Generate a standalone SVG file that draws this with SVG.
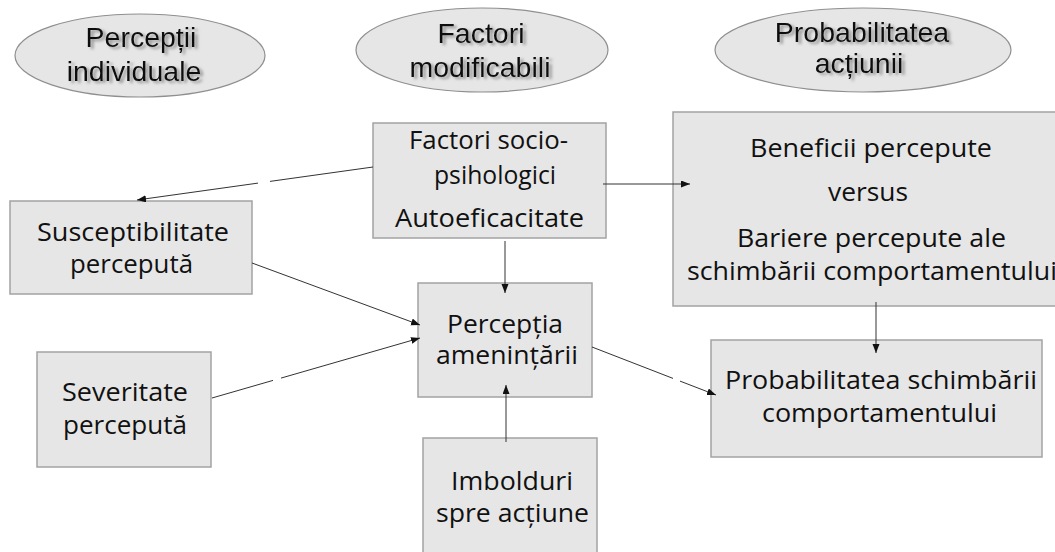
<svg xmlns="http://www.w3.org/2000/svg" width="1055" height="552" viewBox="0 0 1055 552">
  <style>
    .ell { fill: #e6e6e6; stroke: #8f8f8f; stroke-width: 1.2; }
    .box { fill: #e6e6e6; stroke: #a3a3a3; stroke-width: 1.5; }
    .et { font-family: "Liberation Sans", Arial, sans-serif; font-size: 28.5px; fill: #111; text-anchor: middle; filter: url(#shadow); }
    .bt { font-family: "Open Sans", "Noto Sans", sans-serif; font-size: 25px; fill: #111; text-anchor: middle; }
    .conn { fill: none; stroke: #333; stroke-width: 1; marker-end: url(#arrow); }
  </style>
  <defs>
    <marker id="arrow" markerUnits="userSpaceOnUse" markerWidth="10" markerHeight="8" refX="9" refY="3.5" orient="auto">
      <path d="M0,0 L9,3.5 L0,7 Z" fill="#111"/>
    </marker>
    <filter id="shadow" x="-10%" y="-20%" width="130%" height="150%">
      <feGaussianBlur in="SourceAlpha" stdDeviation="1.6" result="b"/>
      <feOffset in="b" dx="3" dy="2" result="o"/>
      <feFlood flood-color="#777" flood-opacity="0.75"/>
      <feComposite in2="o" operator="in" result="s"/>
      <feMerge>
        <feMergeNode in="s"/>
        <feMergeNode in="SourceGraphic"/>
      </feMerge>
    </filter>
  </defs>
  <rect width="1055" height="552" fill="#ffffff"/>

  <g id="header-perceptii">
    <ellipse class="ell" cx="140" cy="55.5" rx="125" ry="41.5"/>
    <text class="et" x="141" y="47">Percepții</text>
    <text class="et" x="134" y="81">individuale</text>
  </g>
  <g id="header-factori">
    <ellipse class="ell" cx="482" cy="50" rx="126" ry="42"/>
    <text class="et" x="481" y="43">Factori</text>
    <text class="et" x="480" y="77">modificabili</text>
  </g>
  <g id="header-probabilitatea">
    <ellipse class="ell" cx="863" cy="50" rx="148" ry="42"/>
    <text class="et" x="862" y="42">Probabilitatea</text>
    <text class="et" x="859" y="73">acțiunii</text>
  </g>

  <g id="node-factori-socio">
    <rect class="box" x="373" y="123" width="233" height="115"/>
    <text class="bt" x="488.5" y="149" textLength="159" lengthAdjust="spacingAndGlyphs">Factori socio-</text>
    <text class="bt" x="495" y="184" textLength="122" lengthAdjust="spacingAndGlyphs">psihologici</text>
    <text class="bt" x="489.5" y="227" textLength="189" lengthAdjust="spacingAndGlyphs">Autoeficacitate</text>
  </g>

  <g id="node-susceptibilitate">
    <rect class="box" x="10" y="201" width="242" height="93"/>
    <text class="bt" x="133" y="241" textLength="192" lengthAdjust="spacingAndGlyphs">Susceptibilitate</text>
    <text class="bt" x="131.5" y="273" textLength="123" lengthAdjust="spacingAndGlyphs">percepută</text>
  </g>

  <g id="node-severitate">
    <rect class="box" x="37" y="352" width="174" height="115"/>
    <text class="bt" x="125" y="401" textLength="126" lengthAdjust="spacingAndGlyphs">Severitate</text>
    <text class="bt" x="125" y="434" textLength="124" lengthAdjust="spacingAndGlyphs">percepută</text>
  </g>

  <g id="node-perceptia">
    <rect class="box" x="418" y="283" width="174" height="114"/>
    <text class="bt" x="505" y="333" textLength="116" lengthAdjust="spacingAndGlyphs">Percepția</text>
    <text class="bt" x="507" y="364" textLength="142" lengthAdjust="spacingAndGlyphs">amenințării</text>
  </g>

  <g id="node-imbolduri">
    <rect class="box" x="423" y="438" width="174" height="130"/>
    <text class="bt" x="512" y="490" textLength="122" lengthAdjust="spacingAndGlyphs">Imbolduri</text>
    <text class="bt" x="512.5" y="522" textLength="153" lengthAdjust="spacingAndGlyphs">spre acțiune</text>
  </g>

  <g id="node-beneficii">
    <rect class="box" x="673" y="112" width="400" height="194"/>
    <text class="bt" x="871" y="157" textLength="242" lengthAdjust="spacingAndGlyphs">Beneficii percepute</text>
    <text class="bt" x="868" y="201" textLength="80" lengthAdjust="spacingAndGlyphs">versus</text>
    <text class="bt" x="871.5" y="247" textLength="269" lengthAdjust="spacingAndGlyphs">Bariere percepute ale</text>
    <text class="bt" x="872" y="280" textLength="370" lengthAdjust="spacingAndGlyphs">schimbării comportamentului</text>
  </g>

  <g id="node-probabilitatea-schimbarii">
    <rect class="box" x="711" y="340" width="331" height="117"/>
    <text class="bt" x="881" y="389" textLength="312" lengthAdjust="spacingAndGlyphs">Probabilitatea schimbării</text>
    <text class="bt" x="879.5" y="422" textLength="235" lengthAdjust="spacingAndGlyphs">comportamentului</text>
  </g>

  <g id="connectors">
    <path class="conn" d="M373,167 L270,181.4 M258,183.1 L137,200"/>
    <path class="conn" d="M603,184 L690,184"/>
    <path class="conn" d="M505,241 L505,293"/>
    <path class="conn" d="M252,263 L420,325"/>
    <path class="conn" d="M212,398 L273,380.4 M281,378.1 L420,338"/>
    <path class="conn" d="M506,442 L506,385"/>
    <path class="conn" d="M592,347 L673,378.4 M680,381.1 L716,395"/>
    <path class="conn" d="M876,302 L876,353"/>
  </g>
</svg>
